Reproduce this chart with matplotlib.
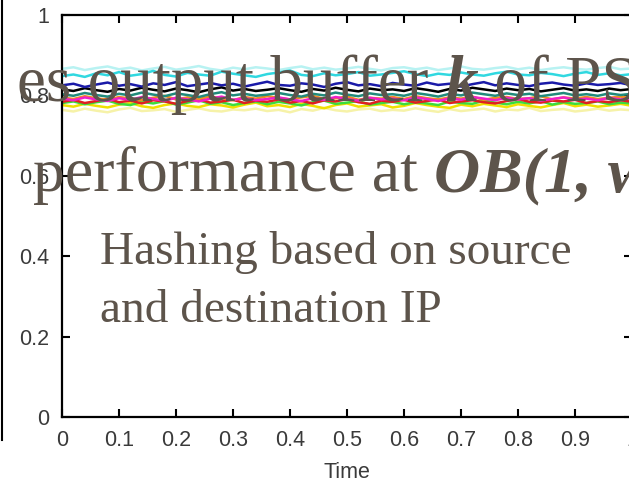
import numpy as np
import matplotlib
matplotlib.use('Agg')
import matplotlib.pyplot as plt
from matplotlib.lines import Line2D

# per-series values (all hover around 0.77 - 0.87)
pale_cyan = [0.866,0.870,0.863,0.868,0.872,0.865,0.869,0.862,0.867,0.871,
             0.864,0.868,0.873,0.866,0.862,0.869,0.865,0.870,0.867,0.863,
             0.868,0.872,0.865,0.869,0.864,0.867,0.871,0.866,0.862,0.868,
             0.870,0.865,0.869,0.863,0.867,0.872,0.866,0.864,0.868,0.871,
             0.865,0.869,0.863,0.867,0.870,0.866,0.864,0.868,0.871,0.865,
             0.867]
pale_yellow = [0.764,0.760,0.767,0.762,0.758,0.765,0.769,0.761,0.763,0.766,
               0.759,0.764,0.768,0.762,0.760,0.765,0.763,0.767,0.761,0.764,
               0.758,0.766,0.762,0.769,0.763,0.760,0.765,0.767,0.761,0.764,
               0.762,0.768,0.763,0.759,0.766,0.761,0.764,0.767,0.760,0.765,
               0.763,0.769,0.761,0.764,0.766,0.760,0.763,0.767,0.762,0.765,
               0.763]
yellow = [0.776,0.772,0.779,0.774,0.770,0.777,0.781,0.773,0.769,0.776,
          0.780,0.774,0.771,0.778,0.775,0.770,0.777,0.782,0.773,0.776,
          0.771,0.779,0.774,0.768,0.776,0.780,0.772,0.775,0.778,0.770,
          0.774,0.781,0.776,0.772,0.769,0.777,0.773,0.779,0.775,0.771,
          0.778,0.774,0.770,0.776,0.781,0.773,0.777,0.772,0.775,0.779,
          0.774]
green = [0.781,0.785,0.778,0.783,0.787,0.779,0.776,0.784,0.780,0.786,
         0.777,0.782,0.788,0.779,0.783,0.776,0.781,0.785,0.778,0.784,
         0.780,0.775,0.783,0.787,0.779,0.782,0.786,0.777,0.781,0.784,
         0.778,0.783,0.780,0.776,0.785,0.781,0.779,0.787,0.782,0.778,
         0.784,0.780,0.786,0.777,0.783,0.779,0.781,0.785,0.778,0.782,
         0.780]
red = [0.784,0.789,0.781,0.786,0.792,0.783,0.787,0.780,0.788,0.785,
       0.779,0.786,0.791,0.782,0.785,0.789,0.781,0.787,0.784,0.790,
       0.782,0.786,0.780,0.788,0.785,0.791,0.783,0.779,0.787,0.784,
       0.789,0.782,0.786,0.790,0.781,0.785,0.788,0.783,0.780,0.786,
       0.791,0.784,0.782,0.787,0.785,0.789,0.781,0.786,0.783,0.788,
       0.784]
orange = [0.795,0.791,0.798,0.793,0.789,0.796,0.792,0.788,0.794,0.799,
          0.790,0.795,0.791,0.797,0.793,0.788,0.796,0.792,0.798,0.794,
          0.790,0.795,0.799,0.791,0.793,0.797,0.789,0.794,0.792,0.796,
          0.791,0.798,0.793,0.790,0.795,0.792,0.797,0.789,0.794,0.796,
          0.791,0.793,0.798,0.790,0.795,0.792,0.796,0.791,0.794,0.797,
          0.793]
magenta = [0.792,0.788,0.795,0.790,0.786,0.793,0.789,0.796,0.791,0.787,
           0.794,0.790,0.785,0.792,0.797,0.789,0.793,0.788,0.791,0.795,
           0.790,0.786,0.793,0.789,0.796,0.791,0.787,0.794,0.790,0.792,
           0.788,0.795,0.791,0.786,0.793,0.789,0.796,0.792,0.788,0.794,
           0.790,0.793,0.787,0.791,0.795,0.789,0.792,0.788,0.794,0.790,
           0.793]
teal = [0.803,0.799,0.806,0.801,0.797,0.804,0.800,0.807,0.802,0.798,
        0.805,0.801,0.796,0.803,0.808,0.800,0.804,0.799,0.802,0.806,
        0.801,0.797,0.804,0.800,0.807,0.802,0.798,0.805,0.801,0.803,
        0.799,0.806,0.802,0.797,0.804,0.800,0.807,0.803,0.799,0.805,
        0.801,0.804,0.798,0.802,0.806,0.800,0.803,0.799,0.805,0.801,
        0.804]
black = [0.815,0.811,0.818,0.813,0.809,0.816,0.812,0.819,0.814,0.810,
         0.817,0.813,0.808,0.815,0.820,0.812,0.816,0.811,0.814,0.818,
         0.813,0.809,0.816,0.812,0.819,0.814,0.810,0.817,0.813,0.815,
         0.811,0.818,0.814,0.809,0.816,0.812,0.819,0.815,0.811,0.817,
         0.813,0.816,0.810,0.814,0.818,0.812,0.815,0.811,0.817,0.813,
         0.816]
navy = [0.825,0.829,0.821,0.827,0.832,0.824,0.828,0.822,0.830,0.826,
        0.833,0.823,0.827,0.831,0.825,0.829,0.822,0.828,0.834,0.826,
        0.824,0.830,0.827,0.821,0.829,0.833,0.825,0.828,0.823,0.831,
        0.827,0.824,0.832,0.826,0.829,0.822,0.828,0.833,0.825,0.830,
        0.826,0.823,0.829,0.832,0.827,0.824,0.830,0.826,0.828,0.831,
        0.825]
cyan = [0.848,0.852,0.846,0.855,0.850,0.858,0.849,0.853,0.861,0.851,
        0.847,0.856,0.852,0.849,0.859,0.854,0.850,0.846,0.853,0.857,
        0.862,0.851,0.848,0.855,0.850,0.853,0.858,0.849,0.852,0.856,
        0.860,0.853,0.848,0.854,0.851,0.857,0.852,0.849,0.855,0.859,
        0.852,0.850,0.856,0.853,0.848,0.854,0.858,0.851,0.855,0.850,
        0.853]

series = [(pale_cyan, '#b8f2f2'), (pale_yellow, '#f6f2a8'), (yellow, '#f0e000'),
          (green, '#3cdc3c'), (red, '#e02020'), (orange, '#f08c20'),
          (magenta, '#f020c8'), (teal, '#208a7a'), (black, '#000000'),
          (navy, '#1a1aa8'), (cyan, '#30d8e0')]

xticks = [0, 0.1, 0.2, 0.3, 0.4, 0.5, 0.6, 0.7, 0.8, 0.9, 1]
yticks = [0, 0.2, 0.4, 0.6, 0.8, 1]

W, H = 629, 486
fig = plt.figure(figsize=(W / 100, H / 100), dpi=100)
ax = fig.add_axes([62 / W, 69 / H, 570 / W, 402 / H])

for vals, col in series:
    t = np.arange(len(vals)) * 0.02
    ax.plot(t, vals, color=col, lw=1.8)

ax.set_xlim(0, 1)
ax.set_ylim(0, 1)
ax.set_xticks(xticks)
ax.set_xticklabels(['%g' % v for v in xticks])
ax.set_yticks(yticks)
ax.set_yticklabels(['%g' % v for v in yticks])
ax.tick_params(direction='in', length=6, width=1.5, top=True, right=True,
               labelsize=15.5, labelcolor='#3a3a3a', pad=9)
for lab in ax.get_xticklabels() + ax.get_yticklabels():
    lab.set_family('Liberation Sans')
for sp in ax.spines.values():
    sp.set_linewidth(1.6)
ax.set_xlabel('Time', fontsize=15.5, family='Liberation Sans', color='#3a3a3a',
              labelpad=8)

# edge of the neighbouring plot on the left
fig.add_artist(Line2D([2 / W, 2 / W], [46 / H, 1], color='black', lw=1.5))

# slide text on top of the plot
tcol = '#5d544b'
fig.canvas.draw()
rend = fig.canvas.get_renderer()

def say(x, y, parts, size):
    for s, bold in parts:
        t = fig.text(x / W, 1 - y / H, s, fontsize=size, color=tcol,
                     family='Liberation Serif',
                     style='italic' if bold else 'normal',
                     weight='bold' if bold else 'normal',
                     va='baseline', ha='left', zorder=10)
        bb = t.get_window_extent(rend)
        x = bb.x1

say(17, 101, [('es output buffer ', False), ('k', True), (' of PS', False)], 47)
say(33, 191, [('performance at ', False), ('OB(1, w', True)], 46)
say(100, 264, [('Hashing based on source', False)], 34)
say(100, 322, [('and destination IP', False)], 34)

fig.savefig('out.png', dpi=100)
